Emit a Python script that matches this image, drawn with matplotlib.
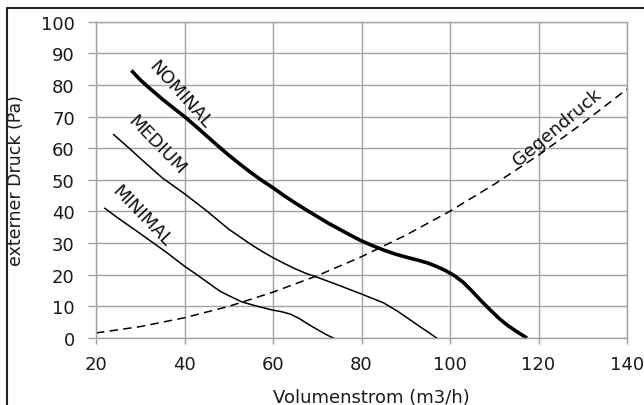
import matplotlib
matplotlib.use("Agg")
import matplotlib.pyplot as plt
from matplotlib.lines import Line2D

plt.rcParams['font.family'] = ['DejaVu Sans']

# ---- data ----
nominal_x = [28, 30, 32.5, 35, 37.5, 40, 42.5, 45, 47.5, 50, 52.5, 55, 57.5, 60, 62.5, 65, 67.5, 70, 72.5, 75, 77.5, 80,
             82.5, 85, 87.5, 90, 92.5, 95, 97, 99, 101, 103, 105, 107, 109, 111, 113, 115, 117.4]
nominal_y = [84.6, 81.6, 78.5, 75.5, 72.7, 70.0, 67.0, 63.9, 60.8, 57.8, 55.0, 52.3, 49.8, 47.5, 45.0, 42.7, 40.5, 38.4, 36.3, 34.4, 32.5, 30.7,
             29.2, 27.8, 26.6, 25.6, 24.7, 23.7, 22.6, 21.3, 19.7, 17.6, 14.8, 11.8, 9.0, 6.3, 4.0, 2.1, 0.0]

medium_x = [24, 27.5, 30, 35, 40, 45, 50, 55, 57.5, 60, 62.5, 65, 67.5, 70, 75, 80, 85, 88, 90, 93, 97]
medium_y = [64.3, 60.0, 56.8, 50.6, 45.6, 40.2, 34.4, 29.6, 27.4, 25.4, 23.6, 21.9, 20.4, 19.2, 16.6, 13.9, 11.1, 8.6, 6.7, 3.8, 0.0]

minimal_x = [22, 25, 30, 33, 36, 40, 43, 46, 48, 50, 53, 56, 58, 60, 62, 64, 66, 68, 70, 72, 73.6]
minimal_y = [41.0, 37.9, 33.0, 30.0, 27.0, 22.7, 19.8, 16.8, 14.8, 13.4, 11.4, 10.2, 9.5, 8.8, 8.3, 7.5, 6.1, 4.3, 2.7, 1.1, 0.0]

gegen_x = [20, 30, 40, 50, 60, 70, 80, 90, 100, 110, 120, 130, 140]
gegen_y = [1.6, 3.6, 6.4, 10.0, 14.5, 19.7, 25.7, 32.5, 40.1, 48.6, 57.8, 67.9, 78.7]

x_ticks = [20, 40, 60, 80, 100, 120, 140]
y_ticks = [0, 10, 20, 30, 40, 50, 60, 70, 80, 90, 100]

W, H = 644, 406
fig = plt.figure(figsize=(W / 100, H / 100), dpi=100)
ax = fig.add_axes([96 / W, 1 - 339 / H, (627 - 96) / W, (339 - 22.7) / H])

gc = '#a3a3a3'
ax.set_xlim(20, 140)
ax.set_ylim(0, 100)
ax.set_xticks(x_ticks)
ax.set_yticks(y_ticks)
ax.grid(True, color=gc, linewidth=1.0)
for s in ax.spines.values():
    s.set_color(gc)
    s.set_linewidth(1.0)
ax.tick_params(axis='both', direction='out', color=gc, width=1.0, labelsize=13,
               labelcolor='#1a1a1a')
ax.tick_params(axis='y', length=5.8, pad=9.5)
ax.tick_params(axis='x', length=4.5, pad=8)

ax.plot(nominal_x, nominal_y, color='black', linewidth=2.6, solid_capstyle='butt',
        solid_joinstyle='round', clip_on=False)
ax.plot(medium_x, medium_y, color='black', linewidth=1.1, solid_joinstyle='round', clip_on=False)
ax.plot(minimal_x, minimal_y, color='black', linewidth=1.1, solid_joinstyle='round', clip_on=False)
ax.plot(gegen_x, gegen_y, color='black', linewidth=1.1, linestyle=(0, (5.5, 3.5)), clip_on=False)

lab = dict(fontsize=13, ha='center', va='center', rotation_mode='anchor', color='#111111')
ax.text(39.1, 77.0, 'NOMINAL', rotation=-48, **lab)
ax.text(33.7, 61.1, 'MEDIUM', rotation=-46, **lab)
ax.text(30.3, 38.7, 'MINIMAL', rotation=-46, **lab)
ax.text(124.2, 66.6, 'Gegendruck', rotation=40, **lab)

ax.set_xlabel('Volumenstrom (m3/h)', fontsize=13, color='#1a1a1a')
ax.xaxis.set_label_coords((371 - 96) / 531, (339 - 389) / 316.3)
ax.set_ylabel('externer Druck (Pa)', fontsize=12.5, color='#1a1a1a')
ax.yaxis.set_label_coords((25 - 96) / 531, 0.5)

# outer frame (cropped border of the original figure)
fig.add_artist(Line2D([7 / W, 7 / W, 1.0], [0.0, 1 - 9 / H, 1 - 9 / H],
                      transform=fig.transFigure, color='#222222', linewidth=1.5))

fig.savefig('out.png', dpi=100)
